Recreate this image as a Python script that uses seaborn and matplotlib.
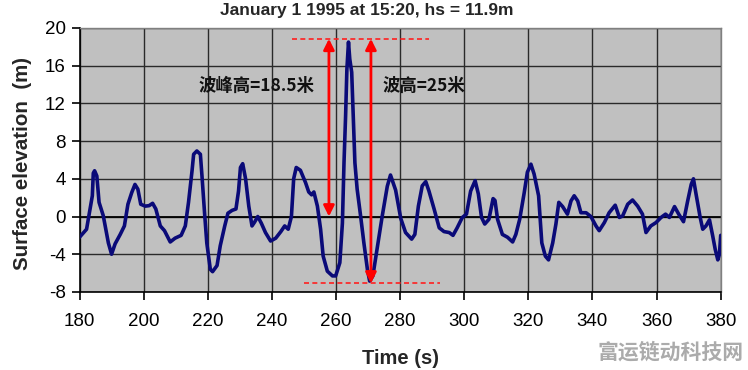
import numpy as np
import pandas as pd
import matplotlib
matplotlib.use("Agg")
import matplotlib.pyplot as plt
import seaborn as sns

# ---- data ----
time_s = [180.0, 182.2, 183.3, 184.0, 184.3, 184.7, 185.4, 186.1, 187.4, 189.0, 190.0, 191.1,
          192.7, 194.0, 195.1, 196.3, 197.3, 198.2, 199.1, 200.5, 201.7, 202.8, 203.8, 205.2,
          206.5, 208.3, 209.8, 211.7, 213.0, 214.0, 215.1, 215.6, 216.6, 217.7, 218.2, 219.0,
          219.7, 220.8, 221.5, 222.9, 223.9, 225.3, 226.3, 227.6, 228.8, 229.6, 230.2, 230.9,
          231.8, 232.8, 233.8, 234.6, 235.6, 236.7, 238.0, 239.6, 241.2, 242.8, 244.0, 245.1,
          246.1, 246.8, 247.6, 248.9, 250.5, 251.5, 252.4, 253.1, 254.2, 255.2, 256.0, 257.3,
          258.9, 259.9, 261.2, 262.0, 262.5, 263.0, 263.4, 263.9, 264.3, 264.9, 265.3, 265.9,
          266.6, 267.7, 268.7, 269.8, 270.5, 271.5, 272.8, 274.4, 276.0, 277.0, 278.6, 280.2,
          281.7, 283.6, 284.6, 285.7, 286.9, 288.0, 289.0, 290.6, 292.2, 293.7, 295.3, 296.5,
          297.8, 299.4, 300.7, 302.0, 303.4, 304.4, 305.4, 306.4, 307.7, 309.0, 309.6, 310.4,
          311.9, 313.5, 315.1, 316.1, 317.3, 318.7, 319.7, 320.8, 321.8, 323.2, 324.2, 325.3,
          326.3, 327.6, 328.6, 329.5, 330.7, 332.2, 333.3, 334.3, 335.4, 336.4, 338.0, 339.5,
          341.1, 342.1, 343.7, 345.2, 347.1, 348.4, 349.4, 351.0, 352.5, 354.1, 355.6, 356.7,
          358.2, 359.8, 361.4, 362.8, 364.0, 365.6, 366.9, 368.4, 369.7, 370.8, 371.5, 372.3,
          373.6, 374.4, 375.4, 376.5, 377.5, 378.3, 379.1, 379.6, 380.0]
elevation_m = [-2.2, -1.35, 0.8, 2.2, 4.6, 4.85, 4.3, 1.5, 0.1, -2.8, -4.0, -2.9,
               -1.9, -1.0, 1.3, 2.55, 3.4, 2.9, 1.3, 1.1, 1.15, 1.4, 0.8, -1.0,
               -1.5, -2.7, -2.3, -2.0, -1.0, 1.5, 4.85, 6.6, 6.95, 6.6, 4.3, 0.4,
               -2.8, -5.6, -5.85, -5.2, -3.1, -1.0, 0.35, 0.65, 0.8, 2.7, 5.2, 5.6,
               4.0, 1.1, -1.0, -0.6, 0.0, -0.7, -1.7, -2.6, -2.3, -1.6, -1.0, -1.35,
               0.0, 4.0, 5.2, 4.9, 3.6, 2.6, 2.3, 2.6, 1.1, -1.35, -4.2, -5.8,
               -6.3, -6.3, -4.9, -0.7, 5.7, 10.7, 15.6, 18.5, 16.7, 15.3, 11.4, 5.7,
               2.9, 0.0, -2.8, -5.6, -6.85, -6.3, -3.5, 0.0, 3.2, 4.4, 2.8, -0.2,
               -1.7, -2.4, -1.9, 1.1, 3.25, 3.7, 2.7, 0.8, -1.2, -1.6, -1.7, -2.0,
               -1.2, -0.1, 0.25, 2.7, 3.8, 2.4, -0.1, -0.8, -0.3, 1.9, 1.7, -0.3,
               -1.9, -2.2, -2.7, -1.9, -0.3, 2.5, 4.7, 5.55, 4.5, 2.2, -2.8, -4.2,
               -4.6, -2.8, -0.8, 1.5, 1.05, 0.25, 1.65, 2.2, 1.65, 0.4, 0.4, 0.0,
               -1.0, -1.5, -0.65, 0.4, 1.2, -0.1, 0.05, 1.3, 1.75, 1.1, 0.25, -1.7,
               -1.0, -0.65, -0.1, 0.25, -0.1, 1.05, 0.25, -0.55, 1.65, 3.4, 4.0, 2.4,
               -0.1, -1.35, -1.0, -0.35, -2.05, -3.5, -4.6, -4.0, -2.0]

x_ticks = [180, 200, 220, 240, 260, 280, 300, 320, 340, 360, 380]
y_ticks = [-8, -4, 0, 4, 8, 12, 16, 20]

title_text = "January 1 1995 at 15:20, hs = 11.9m"
x_label = "Time (s)"
y_label = "Surface elevation  (m)"

# annotation values
crest_level = 18.85
trough_level = -7.1
still_level = 0.0
crest_arrow_t = 257.8
height_arrow_t = 270.9
top_dash_t = [246.4, 288.9]
bottom_dash_t = [249.9, 292.6]
crest_label = "波峰高=18.5米"
crest_label_pos = (235.2, 13.9)
height_label = "波高=25米"
height_label_pos = (287.5, 13.9)
watermark = "富运链动科技网"

# ---- styling ----
sns.set_style("ticks")
plt.rcParams['font.family'] = ['Liberation Sans', 'DejaVu Sans']
plt.rcParams['axes.unicode_minus'] = False
cjk = ['Noto Sans CJK SC', 'DejaVu Sans']

df = pd.DataFrame({"t": time_s, "eta": elevation_m})

fig = plt.figure(figsize=(7.48, 3.70), dpi=100)
ax = fig.add_axes([0.1063, 0.211, 0.8572, 0.7135])
ax.set_facecolor("#c0c0c0")

ax.set_xlim(180, 380)
ax.set_ylim(-8, 20)
ax.set_xticks(x_ticks)
ax.set_yticks(y_ticks)
ax.grid(True, color="#2a2a2a", linewidth=1.0)
ax.set_axisbelow(True)
ax.axhline(0, color="black", linewidth=1.3, zorder=1)

sns.lineplot(data=df, x="t", y="eta", ax=ax, color="#0a0a78", linewidth=2.6,
             sort=False, zorder=3)

# red annotations
ax.hlines(crest_level, top_dash_t[0], top_dash_t[1], colors="#ff2020",
          linestyles=(0, (3, 2)), linewidth=1.2, zorder=4)
ax.hlines(trough_level, bottom_dash_t[0], bottom_dash_t[1], colors="#ff2020",
          linestyles=(0, (3, 2)), linewidth=1.2, zorder=4)
arrow_kw = dict(arrowstyle="<|-|>", color="#ff0000", lw=2.0, mutation_scale=16,
                shrinkA=0, shrinkB=0)
ax.annotate("", xy=(crest_arrow_t, crest_level), xytext=(crest_arrow_t, still_level),
            arrowprops=arrow_kw, zorder=5)
ax.annotate("", xy=(height_arrow_t, crest_level), xytext=(height_arrow_t, trough_level),
            arrowprops=arrow_kw, zorder=5)

ax.text(*crest_label_pos, crest_label, family=cjk, fontweight="bold", fontsize=12.5,
        ha="center", va="center", color="#111111", zorder=6)
ax.text(*height_label_pos, height_label, family=cjk, fontweight="bold", fontsize=12.5,
        ha="center", va="center", color="#111111", zorder=6)

# axes styling
for s in ["left", "bottom"]:
    ax.spines[s].set_color("black")
    ax.spines[s].set_linewidth(1.2)
for s in ["top", "right"]:
    ax.spines[s].set_color("#808080")
    ax.spines[s].set_linewidth(1.0)
ax.tick_params(axis="both", direction="out", length=6, width=1.2, labelsize=13.5,
               colors="black", pad=4)
ax.tick_params(axis="x", pad=9)

ax.set_xlabel(x_label, fontsize=14.5, fontweight="bold")
ax.set_ylabel(y_label, fontsize=14.8, fontweight="bold")
ax.xaxis.set_label_coords(0.5, -0.215)
ax.yaxis.set_label_coords(-0.074, 0.487)

fig.text(367 / 748, 0.972, title_text, ha="center", va="center",
         fontsize=12.5, fontweight="bold")
fig.text(671 / 748, 1 - 352 / 370, watermark, family=cjk, fontweight="bold",
         fontsize=15, color="#ababab", ha="center", va="center")

fig.savefig("out.png", dpi=100)
